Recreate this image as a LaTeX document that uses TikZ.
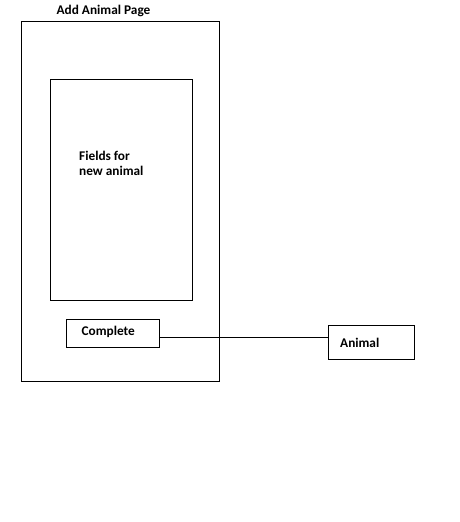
\documentclass[tikz,border=0pt]{standalone}
\usepackage{fontspec}
\setmainfont{Carlito}
\begin{document}
\begin{tikzpicture}[x=1pt,y=-1pt,
  box/.style={draw,line width=1pt,inner sep=0pt},
  lbl/.style={font=\fontsize{13.3}{15.5}\selectfont\bfseries,inner sep=0pt,anchor=west,align=left}]
\useasboundingbox (0,0) rectangle (459,522);
\draw[box] (21,21) rectangle (219,381.5);
\coordinate (outer) at (120,201);
\draw[box] (50,79) rectangle (192,300);
\node[box,minimum width=92.5pt,minimum height=28pt] (complete) at (113,333.3) {};
\node[box,minimum width=86pt,minimum height=34pt] (animal) at (371.2,342) {};
\node[lbl,anchor=center] (title) at (103.5,11) {Add Animal Page};
\node[lbl] (fields) at (79,163.5) {Fields for\\new animal};
\node[lbl] (completetxt) at (81.5,332) {Complete};
\node[lbl] (animaltxt) at (340,342.5) {Animal};
\draw[line width=1pt] (complete.east |- 0,337.3) -- (animal.west |- 0,337.3);
\end{tikzpicture}
\end{document}
